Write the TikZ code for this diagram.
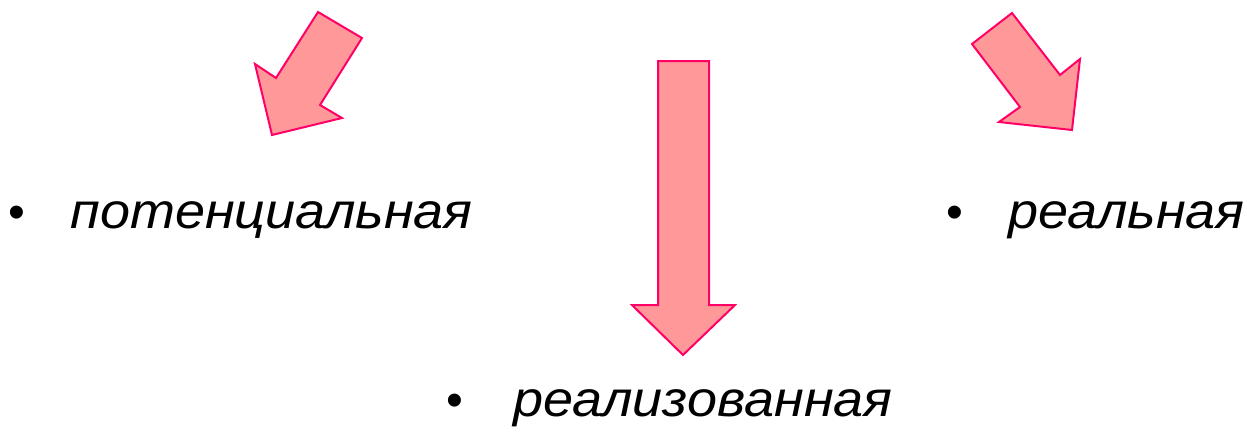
\documentclass[tikz,border=0pt]{standalone}
\usepackage{fontspec}
\setmainfont{Liberation Sans}
\newfontfamily\widefont[FakeStretch=1.08]{Liberation Sans}
\begin{document}
\begin{tikzpicture}[x=0.5pt,y=-0.5pt,
  bigarrow/.style={fill={rgb,255:red,255;green,153;blue,153}, draw={rgb,255:red,255;green,0;blue,102}, line width=1pt, line join=miter},
  label/.style={inner sep=0pt, anchor=base west, font=\widefont\fontsize{25}{30}\selectfont\itshape},
  bullet/.style={inner sep=0pt, anchor=base, font=\fontsize{24}{28}\selectfont}]
\useasboundingbox (0,0) rectangle (1247,434);
% arrows
\draw[bigarrow] (318,12) -- (362,38) -- (320,105) -- (342,118) -- (272,135) -- (255,64) -- (276,78) -- cycle;
\draw[bigarrow] (658,61) -- (709,61) -- (709,305) -- (735,305) -- (683,355) -- (632,305) -- (658,305) -- cycle;
\draw[bigarrow] (1012,13) -- (972,44) -- (1020,107) -- (999,122) -- (1072,130) -- (1080,59) -- (1060,75) -- cycle;
% texts
\node[bullet] (b1) at (17,228) {•};
\node[label] (t1) at (70,228) {потенциальная};
\node[bullet] (b2) at (955,228) {•};
\node[label] (t2) at (1008,228) {реальная};
\node[bullet] (b3) at (455,416) {•};
\node[label] (t3) at (513,416) {реализованная};
\end{tikzpicture}
\end{document}
